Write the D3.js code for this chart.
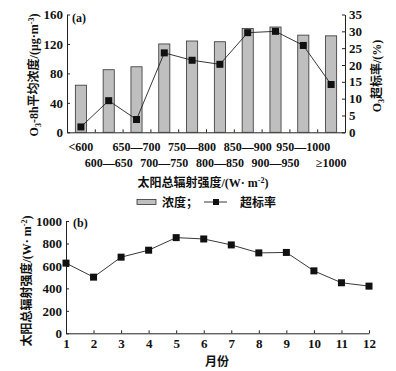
<!DOCTYPE html>
<html>
<head>
<meta charset="utf-8">
<script src="https://cdn.jsdelivr.net/npm/d3@7"></script>
<style>
body { margin: 0; background: #fff; }
svg text { font-family: "Liberation Serif", "Times New Roman", serif; font-weight: bold; fill: #111; }
.cjk { font-family: "Noto Sans CJK SC", sans-serif; font-weight: bold; }
.axis path, .axis line { stroke: #222; stroke-width: 1; }
</style>
</head>
<body>
<div id="chart-area"></div>
<script>
// 数据
var bins = ["<600", "600—650", "650—700", "700—750", "750—800", "800—850",
	"850—900", "900—950", "950—1000", "≥1000"];
var conc = [64, 85, 89, 120, 124, 123, 141, 143, 132, 131];
var rate = [1.6, 9.4, 3.8, 23.6, 21.4, 20.2, 29.6, 30.0, 25.8, 14.2];
var months = [1, 2, 3, 4, 5, 6, 7, 8, 9, 10, 11, 12];
var radiation = [625, 500, 678, 740, 852, 840, 787, 716, 720, 556, 450, 420];
var leftTicksA = [0, 40, 80, 120, 160];
var rightTicksA = [0, 5, 10, 15, 20, 25, 30, 35];
var leftTicksB = [0, 200, 400, 600, 800, 1000];

var svg = d3.select("#chart-area")
	.append("svg")
	.attr("width", 396)
	.attr("height", 371);

// ---------- (a) ----------
var x = d3.scaleBand().domain(bins).range([67, 345]).paddingInner(0.6).paddingOuter(0.3);
var xEdge = d3.scaleLinear().domain([0, bins.length]).range([67, 345]);
var yL = d3.scaleLinear().domain([0, 160]).range([132.3, 14.5]);
var yR = d3.scaleLinear().domain([0, 35]).range([132.3, 14.5]);

svg.append("g")
	.attr("class", "axis")
	.attr("transform", "translate(0,132.3)")
	.call(d3.axisBottom(xEdge).tickValues(d3.range(0, bins.length + 1)).tickSize(-3).tickSizeOuter(0).tickFormat(""));

svg.selectAll(".bar")
	.data(conc)
	.enter().append("rect")
	.attr("class", "bar")
	.attr("x", (d, i) => x(bins[i]))
	.attr("y", d => yL(d))
	.attr("width", x.bandwidth())
	.attr("height", d => yL(0) - yL(d))
	.attr("fill", "#bfbfbf")
	.attr("stroke", "#333")
	.attr("stroke-width", 0.8);

svg.append("g")
	.attr("class", "axis")
	.attr("transform", "translate(67,0)")
	.call(d3.axisLeft(yL).tickValues(leftTicksA).tickSize(-3).tickSizeOuter(0).tickPadding(4))
	.selectAll("text").style("font-size", "13px");

svg.append("g")
	.attr("class", "axis")
	.attr("transform", "translate(345,0)")
	.call(d3.axisRight(yR).tickValues(rightTicksA).tickSize(-3).tickSizeOuter(0).tickPadding(4))
	.selectAll("text").style("font-size", "13px");

var lineA = d3.line()
	.x((d, i) => x(bins[i]) + x.bandwidth() / 2)
	.y(d => yR(d));
svg.append("path")
	.datum(rate)
	.attr("d", lineA)
	.attr("fill", "none")
	.attr("stroke", "#222")
	.attr("stroke-width", 0.9);
svg.selectAll(".ptA")
	.data(rate)
	.enter().append("rect")
	.attr("class", "ptA")
	.attr("x", (d, i) => x(bins[i]) + x.bandwidth() / 2 - 3.5)
	.attr("y", d => yR(d) - 3.5)
	.attr("width", 7)
	.attr("height", 7)
	.attr("fill", "#111");

// 交错的类别标签
svg.selectAll(".binlab")
	.data(bins)
	.enter().append("text")
	.attr("class", "binlab")
	.attr("x", d => x(d) + x.bandwidth() / 2)
	.attr("y", (d, i) => i % 2 === 0 ? 151 : 166.5)
	.attr("text-anchor", "middle")
	.style("font-size", "12px")
	.text(d => d);

svg.append("text").attr("x", 72).attr("y", 22).style("font-size", "12px").text("(a)");

var tA = svg.append("text")
	.attr("x", 203).attr("y", 186.5)
	.attr("text-anchor", "middle")
	.style("font-size", "12px");
tA.append("tspan").attr("class", "cjk").text("太阳总辐射强度");
tA.append("tspan").text("/(W· m");
tA.append("tspan").attr("dy", -4).style("font-size", "8px").text("-2");
tA.append("tspan").attr("dy", 4).text(")");

var yTitleL = svg.append("text")
	.attr("transform", "translate(38,75) rotate(-90)")
	.attr("text-anchor", "middle")
	.style("font-size", "12px");
yTitleL.append("tspan").text("O");
yTitleL.append("tspan").attr("dy", 3).style("font-size", "8px").text("3");
yTitleL.append("tspan").attr("dy", -3).text("-8h");
yTitleL.append("tspan").attr("class", "cjk").text("平均浓度");
yTitleL.append("tspan").text("/(μg·m");
yTitleL.append("tspan").attr("dy", -4).style("font-size", "8px").text("-3");
yTitleL.append("tspan").attr("dy", 4).text(")");

var yTitleR = svg.append("text")
	.attr("transform", "translate(381,76) rotate(-90)")
	.attr("text-anchor", "middle")
	.style("font-size", "12px");
yTitleR.append("tspan").text("O");
yTitleR.append("tspan").attr("dy", 3).style("font-size", "8px").text("3");
yTitleR.append("tspan").attr("dy", -3).attr("class", "cjk").text("超标率");
yTitleR.append("tspan").text("/(%)");

// 图例
var lg = svg.append("g");
lg.append("rect").attr("x", 137).attr("y", 199.5).attr("width", 19).attr("height", 5)
	.attr("fill", "#bfbfbf").attr("stroke", "#333").attr("stroke-width", 0.8);
lg.append("text").attr("class", "cjk").attr("x", 162).attr("y", 206.5).style("font-size", "12px").text("浓度；");
lg.append("line").attr("x1", 204).attr("x2", 227).attr("y1", 202).attr("y2", 202)
	.attr("stroke", "#222").attr("stroke-width", 0.9);
lg.append("rect").attr("x", 213).attr("y", 199).attr("width", 6).attr("height", 6).attr("fill", "#111");
lg.append("text").attr("class", "cjk").attr("x", 240).attr("y", 206.5).style("font-size", "12px").text("超标率");

// ---------- (b) ----------
var xm = d3.scaleLinear().domain([1, 12]).range([66, 369]);
var yb = d3.scaleLinear().domain([0, 1000]).range([333.3, 221]);

svg.append("g")
	.attr("class", "axis")
	.attr("transform", "translate(0,333.3)")
	.call(d3.axisBottom(xm).tickValues(months).tickSize(-3).tickSizeOuter(0).tickPadding(5))
	.selectAll("text").style("font-size", "13px");

svg.append("g")
	.attr("class", "axis")
	.attr("transform", "translate(66,0)")
	.call(d3.axisLeft(yb).tickValues(leftTicksB).tickFormat(d3.format("d")).tickSize(-3).tickSizeOuter(0).tickPadding(4))
	.selectAll("text").style("font-size", "13px");

svg.append("path")
	.datum(radiation)
	.attr("d", d3.line().x((d, i) => xm(months[i])).y(d => yb(d)))
	.attr("fill", "none")
	.attr("stroke", "#222")
	.attr("stroke-width", 0.9);
svg.selectAll(".ptB")
	.data(radiation)
	.enter().append("rect")
	.attr("class", "ptB")
	.attr("x", (d, i) => xm(months[i]) - 3.5)
	.attr("y", d => yb(d) - 3.5)
	.attr("width", 7)
	.attr("height", 7)
	.attr("fill", "#111");

svg.append("text").attr("x", 73).attr("y", 227).style("font-size", "12px").text("(b)");

svg.append("text").attr("class", "cjk")
	.attr("x", 217).attr("y", 366)
	.attr("text-anchor", "middle")
	.style("font-size", "12px")
	.text("月份");

var yTitleB = svg.append("text")
	.attr("transform", "translate(31,281) rotate(-90)")
	.attr("text-anchor", "middle")
	.style("font-size", "12px");
yTitleB.append("tspan").attr("class", "cjk").text("太阳总辐射强度");
yTitleB.append("tspan").text("/(W· m");
yTitleB.append("tspan").attr("dy", -4).style("font-size", "8px").text("-2");
yTitleB.append("tspan").attr("dy", 4).text(")");
</script>
</body>
</html>
